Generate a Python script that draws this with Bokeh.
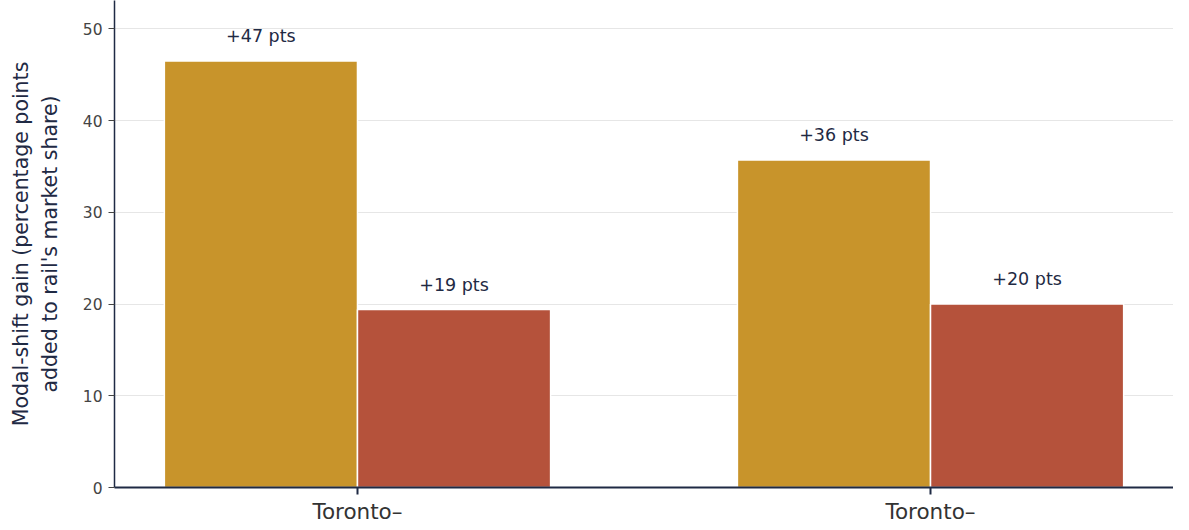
from bokeh.plotting import figure
from bokeh.models import ColumnDataSource, Range1d, FixedTicker, LabelSet
from bokeh.core.properties import value
from bokeh.transform import dodge
from bokeh.embed import file_html
from bokeh.resources import INLINE

# ---- data ----
categories = ["Toronto–", "Toronto–"]
series_a = [46.5, 35.7]   # gold series
series_b = [19.4, 20.0]   # red series
labels_a = ["+47 pts", "+36 pts"]
labels_b = ["+19 pts", "+20 pts"]
y_ticks = [0, 10, 20, 30, 40, 50]

GOLD = "#C8942B"
RED = "#B5523B"
NAVY = "#1f2a44"
FONT = "DejaVu Sans"

xs = [i + 0.5 for i in range(len(categories))]
src = ColumnDataSource(dict(x=xs, a=series_a, b=series_b, la=labels_a, lb=labels_b))

p = figure(width=1173, height=526, output_backend="svg", toolbar_location=None,
           x_range=Range1d(0.076, 1.924), y_range=Range1d(0, 53.1),
           min_border_left=114, min_border_right=0, min_border_top=0,
           min_border_bottom=0)
p.outline_line_color = None
p.background_fill_color = "white"

bw = 0.337
p.vbar(x=dodge("x", -bw / 2, range=p.x_range), top="a", width=bw, source=src,
       fill_color=GOLD, line_color="white", line_width=1.5)
p.vbar(x=dodge("x", bw / 2, range=p.x_range), top="b", width=bw, source=src,
       fill_color=RED, line_color="white", line_width=1.5)

for col, yc, off in (("la", "a", -bw / 2), ("lb", "b", bw / 2)):
    p.add_layout(LabelSet(x=dodge("x", off, range=p.x_range), y=yc, text=col, source=src,
                          y_offset=25, text_align="center", text_baseline="middle",
                          text_font=value(FONT), text_font_size=value("17.5px"),
                          text_color=NAVY))

# axes
p.xaxis.ticker = FixedTicker(ticks=xs)
p.xaxis.major_label_overrides = {x: c for x, c in zip(xs, categories)}
p.xaxis.major_label_text_font = FONT
p.xaxis.major_label_text_font_size = "21.5px"
p.xaxis.major_label_text_color = "#333333"
p.xaxis.axis_line_color = NAVY
p.xaxis.axis_line_width = 2
p.xaxis.major_tick_line_color = NAVY
p.xaxis.major_tick_line_width = 2
p.xaxis.major_tick_in = 0
p.xaxis.major_tick_out = 7
p.xaxis.minor_tick_line_color = None
p.xaxis.major_label_standoff = 4

p.yaxis.ticker = FixedTicker(ticks=y_ticks)
p.yaxis.axis_label = "Modal-shift gain (percentage points\nadded to rail's market share)"
p.yaxis.axis_label_text_font = FONT
p.yaxis.axis_label_text_font_size = "20.5px"
p.yaxis.axis_label_text_font_style = "normal"
p.yaxis.axis_label_text_color = NAVY
p.yaxis.axis_label_standoff = 18
p.yaxis.major_label_text_font = FONT
p.yaxis.major_label_text_font_size = "15.5px"
p.yaxis.major_label_text_color = "#444444"
p.yaxis.axis_line_color = NAVY
p.yaxis.axis_line_width = 1.5
p.yaxis.major_tick_line_color = "#444444"
p.yaxis.major_tick_in = 0
p.yaxis.major_tick_out = 6
p.yaxis.minor_tick_line_color = None
p.yaxis.major_label_standoff = 6

p.xgrid.grid_line_color = None
p.ygrid.grid_line_color = "#e6e6e6"
p.ygrid.grid_line_width = 1

open("out.html", "w").write(file_html(p, INLINE))
